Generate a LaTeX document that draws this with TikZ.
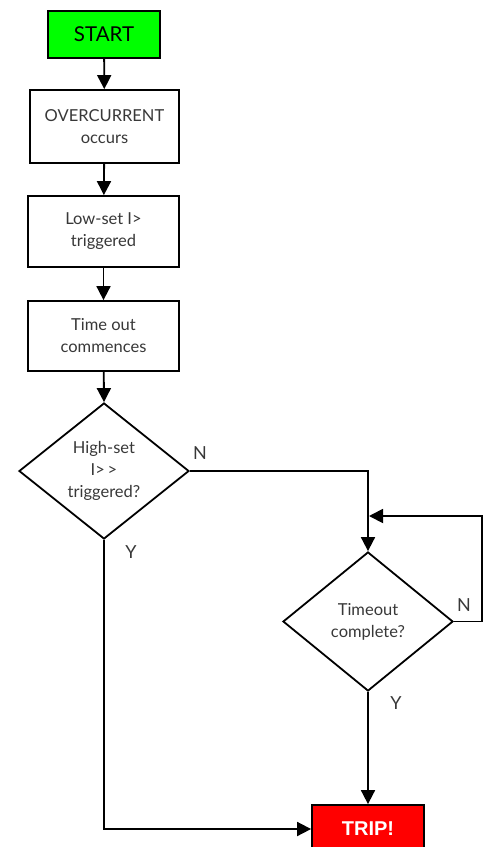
\documentclass[tikz,border=0pt]{standalone}
\usepackage{fontspec}
\setmainfont{Lato}
\newfontfamily\tripfont{Liberation Sans}
\usetikzlibrary{shapes.geometric,arrows.meta}
\definecolor{txt}{gray}{0.22}
\definecolor{startgreen}{RGB}{0,255,0}
\definecolor{tripred}{RGB}{255,0,0}
\begin{document}
\begin{tikzpicture}[x=1pt,y=-1pt,
  every node/.style={font=\fontsize{16.5}{22}\selectfont},
  box/.style={draw=black,line width=1.8pt,fill=white,align=center,text=txt,inner sep=0pt},
  dec/.style={draw=black,line width=1.8pt,diamond,align=center,text=txt,inner sep=0pt,aspect=1.25},
  conn/.style={line width=1.8pt,draw=black},
  arr/.style={conn,-{Triangle[width=14pt,length=14pt]}},
  lbl/.style={text=txt,inner sep=0pt,font=\fontsize{18}{22}\selectfont}]
\useasboundingbox (0,0) rectangle (485,847);
\node[box,fill=startgreen,text=black,minimum width=112pt,minimum height=47pt,font=\fontsize{20.5}{24}\selectfont] (start) at (104,34.5) {START};
\node[box,minimum width=149pt,minimum height=73pt] (over) at (104.5,126.5) {OVERCURRENT\\occurs};
\node[box,minimum width=151pt,minimum height=71pt] (low) at (103.5,231.5) {Low-set I{>}\\triggered};
\node[box,minimum width=151pt,minimum height=70pt] (time) at (103.5,336) {Time out\\commences};
\node[dec,minimum width=170pt,minimum height=136pt] (d1) at (104,471) {High-set\\I{>}\,{>}\\triggered?};
\node[dec,minimum width=170pt,minimum height=139pt,aspect=1.22] (d2) at (368,621.5) {Timeout\\complete?};
\node[box,fill=tripred,text=white,minimum width=112pt,minimum height=48pt,font=\tripfont\bfseries\fontsize{20}{24}\selectfont] (trip) at (368,829) {TRIP!};
\coordinate (loopr) at (482,516);
\coordinate (loopin) at (369,516);
\draw[arr] (start) -- (over);
\draw[arr] (over) -- (low);
\draw[arr] (low) -- (time);
\draw[arr] (time) -- (d1.north);
\draw[arr] (d1.east) -| (d2.north);
\draw[arr] (d2.east) -| (loopr) -- (loopin);
\draw[arr] (d1.south) |- (trip.west);
\draw[arr] (d2.south) -- (trip.north);
\node[lbl] (n1) at (200,453) {N};
\node[lbl] (y1) at (131,552) {Y};
\node[lbl] (n2) at (464,605) {N};
\node[lbl] (y2) at (396,703) {Y};
\end{tikzpicture}
\end{document}
